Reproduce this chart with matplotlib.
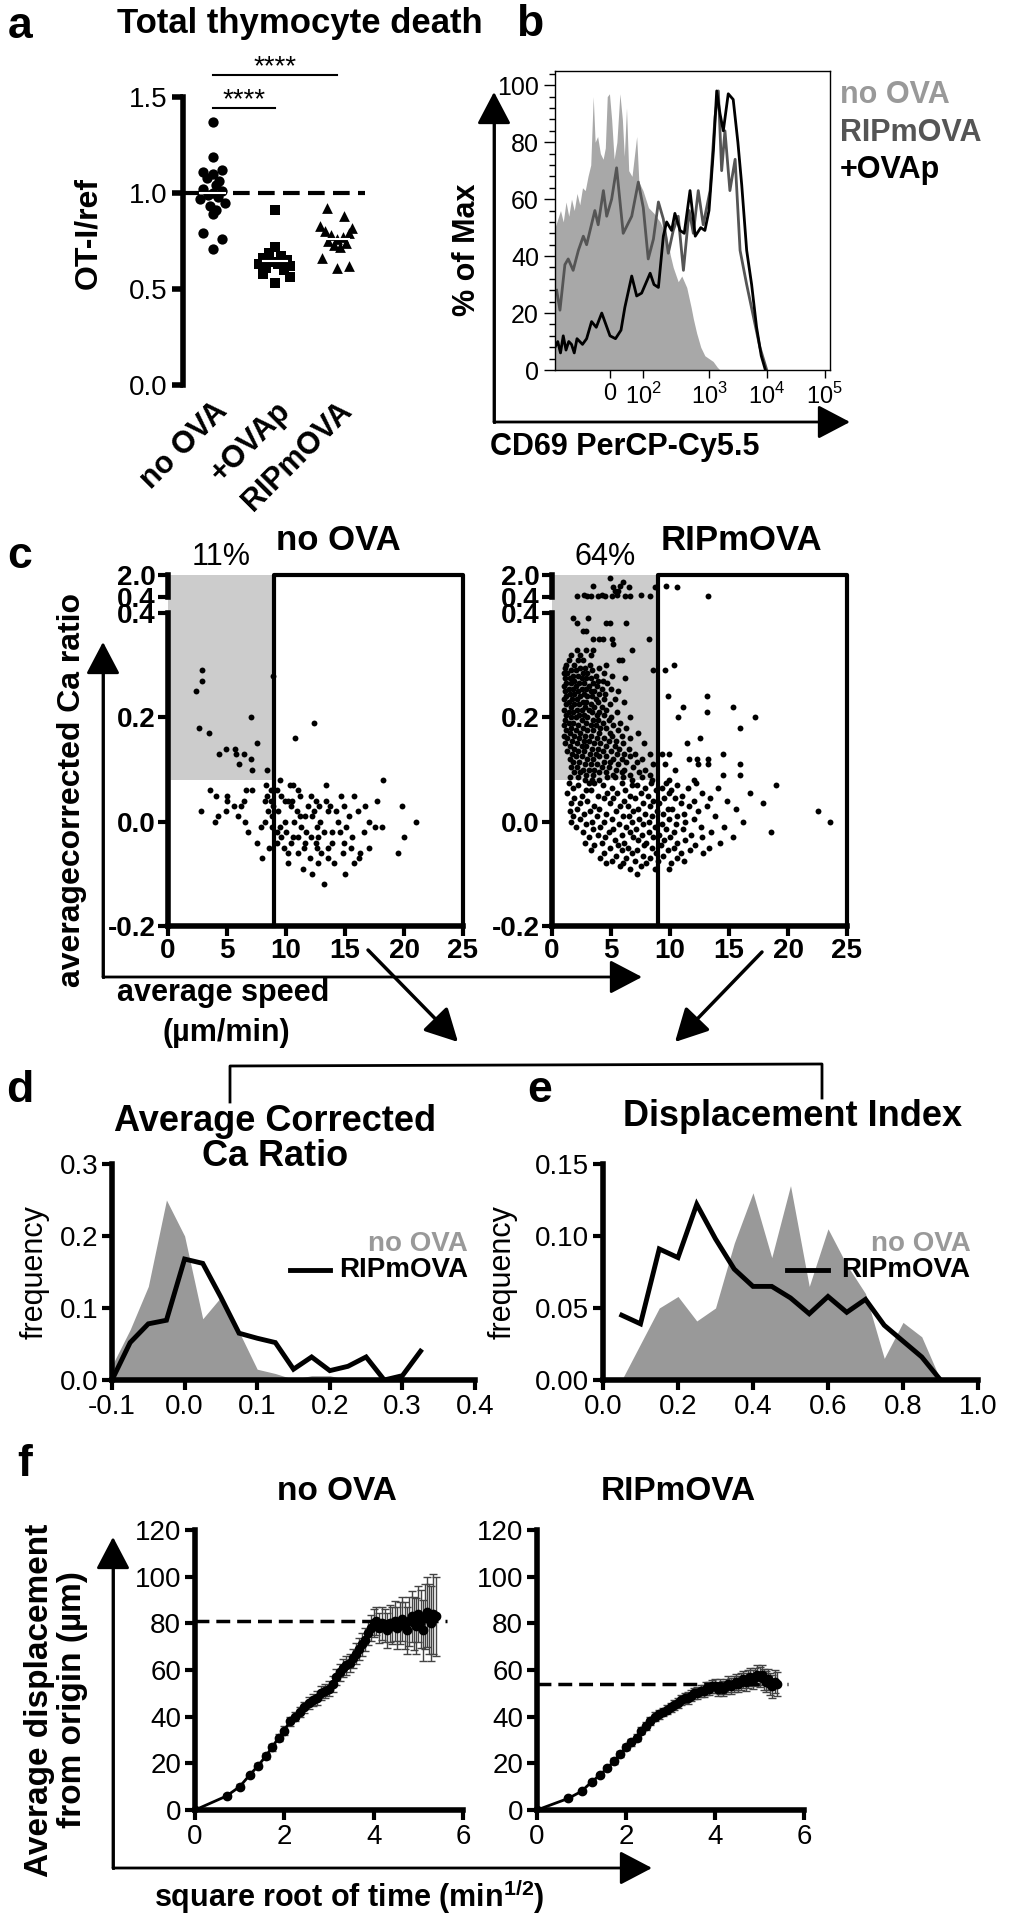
import numpy as np
import matplotlib
matplotlib.use('Agg')
import matplotlib.pyplot as plt
from matplotlib.patches import Rectangle
from matplotlib.lines import Line2D
from matplotlib.ticker import AutoMinorLocator

plt.rcParams['font.family'] = ['Liberation Sans', 'DejaVu Sans']
plt.rcParams['mathtext.fontset'] = 'custom'
plt.rcParams['mathtext.rm'] = 'Liberation Sans'
plt.rcParams['mathtext.bf'] = 'Liberation Sans:bold'

# ---------------- data ----------------
# a: total thymocyte death (OT-I/ref)
a_groups = ['no OVA', '+OVAp', 'RIPmOVA']
a_noova = [1.37, 1.19, 1.11, 1.12, 1.10, 1.08, 1.06, 1.04, 1.02, 1.01, 1.00,
           0.99, 0.98, 0.97, 0.95, 0.93, 0.91, 0.89, 0.79, 0.76, 0.71]
a_noova_dx = [0, 0, -0.15, 0.15, 0.0, -0.1, 0.1, 0.05, -0.15, 0.15, 0.0,
              -0.08, 0.08, -0.2, 0.2, -0.05, 0.05, 0.0, -0.15, 0.15, 0.0]
a_ovap = [0.91, 0.72, 0.69, 0.67, 0.66, 0.65, 0.64, 0.63, 0.63, 0.62, 0.61,
          0.60, 0.58, 0.56, 0.53]
a_ovap_dx = [0, 0, -0.1, 0.1, -0.2, 0.2, -0.05, 0.05, -0.25, 0.25, -0.15,
             0.15, -0.2, 0.25, 0]
a_rip = [0.92, 0.88, 0.83, 0.82, 0.80, 0.79, 0.78, 0.77, 0.76, 0.75, 0.74,
         0.73, 0.72, 0.66, 0.62, 0.61]
a_rip_dx = [-0.16, 0.11, -0.28, 0.24, -0.2, 0.2, -0.1, 0.1, 0.0, -0.15, 0.15,
            -0.05, 0.05, -0.24, 0.19, 0.0]
a_sig = [(0, 2, 1.615), (0, 1, 1.443)]

# b: CD69 histograms (display channel 0-1000)
b_tick_ch = [200, 320, 560, 770, 980]
b_tick_labels = ['0', '10$^2$', '10$^3$', '10$^4$', '10$^5$']
b_noova_ch = [0, 10, 20, 30, 40, 50, 60, 70, 80, 90,
              100, 110, 120, 130, 139, 146, 155, 165, 175, 183,
              190, 198, 206, 215, 225, 236, 245, 252, 260, 268,
              280, 297, 305, 320, 340, 360, 382, 406, 420, 430,
              448, 461, 479, 495, 503, 515, 530, 545, 560, 575,
              590, 600]
b_noova_pct = [50, 53, 56, 52, 59, 54, 60, 56, 62, 58,
               64, 63, 68, 72, 96, 80, 82, 76, 74, 78,
               96, 97, 88, 74, 80, 97, 88, 75, 92, 70,
               68, 82, 66, 63, 57, 55, 52, 47, 40, 36,
               31, 33, 29, 22, 18, 13, 8, 5, 4, 3,
               1, 0]
b_rip_ch = [6, 18, 36, 48, 66, 85, 103, 115, 145, 157,
            176, 188, 206, 224, 248, 279, 303, 321, 339, 358,
            376, 394, 412, 430, 448, 467, 488, 503, 521, 539,
            564, 582, 594, 606, 618, 636, 655, 673, 697, 721,
            745, 770]
b_rip_pct = [28, 21, 37, 39, 35, 42, 47, 44, 56, 51,
             63, 54, 60, 71, 48, 54, 66, 57, 39, 46,
             59, 53, 41, 49, 54, 35, 56, 48, 63, 51,
             63, 89, 98, 70, 84, 63, 74, 42, 30, 19,
             8, 0]
b_ovap_ch = [0, 10, 20, 30, 40, 50, 60, 70, 80, 90,
             100, 115, 133, 150, 170, 185, 200, 220, 240, 254,
             279, 297, 315, 346, 360, 376, 394, 406, 424, 436,
             455, 470, 491, 510, 530, 545, 560, 576, 588, 600,
             612, 630, 648, 665, 679, 697, 715, 733, 750, 765]
b_ovap_pct = [8, 10, 6, 12, 7, 10, 9, 6, 11, 10,
              9, 11, 17, 15, 20, 16, 12, 11, 14, 22,
              33, 26, 27, 34, 30, 29, 47, 52, 49, 55,
              49, 48, 63, 47, 50, 49, 56, 77, 98, 90,
              84, 97, 95, 80, 65, 42, 30, 15, 5, 0]

# c: average corrected Ca ratio vs average speed, rows of (ratio, [speeds])
gate_speed = 9
gate_ca = 0.08
c_noova_rows = [
    (0.29, [2.9]), (0.28, [8.9]), (0.27, [2.9]), (0.25, [2.35]),
    (0.20, [7.0]), (0.19, [12.4]), (0.18, [2.6]), (0.17, [3.5]),
    (0.16, [10.8]), (0.15, [7.5]), (0.14, [4.9, 5.7]), (0.13, [4.3, 5.8, 6.4]),
    (0.12, [7.0]), (0.11, [6.0]), (0.10, [7.1, 8.4]), (0.08, [9.5, 18.2]),
    (0.07, [8.3, 10.3, 10.6, 13.4]),
    (0.06, [3.6, 6.6, 7.1, 8.7, 9.2, 11.0]),
    (0.05, [4.1, 5.0, 8.4, 9.6, 11.2, 12.1, 14.7, 15.8]),
    (0.04, [5.0, 6.4, 8.2, 8.7, 9.9, 10.2, 10.5, 12.5, 13.4, 17.7]),
    (0.03, [5.6, 6.2, 8.9, 10.4, 11.9, 12.8, 13.7, 14.9, 16.7, 19.8]),
    (0.02, [2.8, 4.9, 8.5, 9.3, 10.9, 12.4, 13.6, 14.2, 16.1]),
    (0.01, [4.2, 5.9, 8.8, 11.2, 11.6, 12.2, 15.3]),
    (0.00, [4.0, 6.5, 8.2, 9.9, 10.7, 12.9, 14.4, 17.0, 21.0]),
    (-0.01, [7.9, 8.8, 9.5, 11.3, 12.6, 15.1, 17.5, 18.1]),
    (-0.02, [6.8, 9.2, 10.0, 11.7, 13.2, 13.9, 14.6, 16.6]),
    (-0.03, [9.6, 10.6, 11.0, 12.1, 12.7, 15.6, 20.0]),
    (-0.04, [7.5, 9.2, 10.4, 11.6, 12.5, 13.9, 14.9]),
    (-0.05, [8.6, 9.8, 11.5, 12.6, 13.6, 15.5, 17.0]),
    (-0.06, [10.2, 11.0, 13.0, 14.8, 16.3, 19.5]),
    (-0.07, [8.0, 12.0, 13.6, 16.2]),
    (-0.08, [10.2, 12.7, 14.1, 15.8]),
    (-0.09, [11.4]), (-0.10, [12.2, 15.0]), (-0.12, [13.2]),
]
c_noova_upper_rows = []
c_rip_upper_rows = [
    (1.80, [4.9]), (1.50, [6.0]),
    (1.20, [3.5, 5.8, 9.7]),
    (1.10, [5.2, 6.5, 8.7, 10.6]),
    (0.85, [5.3, 5.6]),
    (0.55, [2.7, 4.2, 5.5, 7.5]),
    (0.45, [2.1, 3.0, 3.3, 3.9, 4.5, 5.1, 6.2, 6.6, 8.3, 13.2]),
]
c_rip_rows = [
    (0.39, [1.8, 3.05]), (0.38, [2.1, 4.6, 4.9, 6.3]), (0.365, [2.65, 2.9]),
    (0.35, [3.5, 4.0, 4.35, 5.1, 8.2]), (0.34, [5.2]),
    (0.33, [2.1, 2.9, 3.5, 6.8]), (0.32, [1.6, 2.4, 3.3]),
    (0.31, [1.4, 2.2, 2.6, 5.7, 5.9]), (0.30, [1.2, 1.9, 3.2, 4.6, 10.3]),
    (0.295, [1.1, 2.4, 2.8, 4.0]), (0.29, [1.6, 2.0, 3.4, 8.6, 9.6]),
    (0.285, [1.0, 1.3, 2.6, 3.0, 4.4]), (0.28, [1.8, 2.2, 3.7, 5.1]),
    (0.275, [1.1, 1.5, 2.5, 2.9, 3.3, 6.2]), (0.27, [1.9, 3.9, 4.3]),
    (0.265, [1.2, 1.6, 2.3, 2.7, 3.5, 4.7]), (0.26, [1.0, 2.0, 3.1, 3.8]),
    (0.255, [1.4, 1.8, 2.5, 2.9, 4.2, 5.0]), (0.25, [1.1, 2.2, 3.3, 3.6, 5.6]),
    (0.245, [1.5, 1.9, 2.7, 4.0, 4.5]),
    (0.24, [1.2, 2.4, 3.0, 3.4, 9.8, 13.1]),
    (0.235, [1.0, 1.7, 2.1, 3.7, 4.4, 5.3]),
    (0.23, [1.4, 2.6, 2.9, 3.9, 6.1]), (0.225, [1.2, 1.9, 2.3, 3.3, 4.9]),
    (0.22, [1.6, 2.8, 3.6, 4.2, 11.1, 15.3]),
    (0.215, [1.0, 2.1, 2.5, 3.1, 4.6]),
    (0.21, [1.4, 1.8, 3.4, 4.0, 5.5, 13.1]),
    (0.205, [1.2, 2.3, 2.7, 3.8, 4.4]),
    (0.20, [1.6, 2.0, 3.0, 5.0, 6.6, 10.7, 17.2]),
    (0.195, [1.1, 2.5, 3.5, 3.9, 4.8]), (0.19, [1.4, 1.8, 2.9, 4.3, 5.8]),
    (0.185, [1.0, 2.2, 3.3, 3.7, 5.2]),
    (0.18, [1.6, 2.6, 4.1, 4.6, 6.3, 15.9]),
    (0.175, [1.2, 2.0, 3.0, 3.5, 5.6]), (0.17, [1.5, 2.4, 4.0, 4.9, 7.3]),
    (0.165, [1.0, 1.9, 2.8, 3.3, 5.1, 5.9]),
    (0.16, [1.3, 2.3, 3.8, 4.4, 6.6, 12.5]),
    (0.155, [1.7, 2.7, 3.1, 4.8, 5.4]),
    (0.15, [1.1, 2.1, 3.6, 4.1, 6.0, 7.8, 11.4]),
    (0.145, [1.5, 2.5, 2.9, 4.6, 5.3]), (0.14, [1.9, 3.4, 3.9, 5.7, 6.5]),
    (0.135, [1.3, 2.2, 2.7, 4.3, 5.0]),
    (0.13, [1.7, 3.2, 3.7, 5.5, 6.1, 7.0, 8.3, 9.3, 9.9, 14.5]),
    (0.125, [2.0, 2.5, 4.0, 4.6, 6.6]),
    (0.12, [1.5, 3.0, 3.5, 5.2, 5.9, 7.6, 11.6, 12.3, 13.2]),
    (0.115, [1.8, 2.3, 4.4, 4.9, 6.3, 7.2]),
    (0.11, [2.8, 3.3, 3.8, 5.6, 8.6, 9.6, 12.4, 13.2, 15.9]),
    (0.105, [1.6, 2.1, 4.2, 4.8, 6.9]),
    (0.10, [2.6, 3.1, 3.6, 5.4, 6.1, 7.9, 10.4]),
    (0.095, [1.9, 2.4, 4.0, 4.6, 5.9, 7.4]),
    (0.09, [2.9, 3.5, 5.2, 6.6, 8.3, 14.5, 15.9]),
    (0.085, [1.5, 2.2, 4.7, 5.3, 6.0, 7.6]),
    (0.08, [2.8, 3.4, 4.0, 6.8, 8.5, 9.9, 12.0]),
    (0.075, [1.4, 3.1, 3.6, 5.9, 8.4, 9.7, 12.2]),
    (0.07, [2.2, 4.3, 6.8, 7.2, 10.6, 19.0]),
    (0.065, [1.8, 5.1, 7.9, 9.3, 11.5, 14.1]),
    (0.06, [2.9, 3.3, 6.2, 8.8, 10.1]),
    (0.055, [1.3, 4.7, 5.5, 7.5, 9.9, 12.7, 16.8]),
    (0.05, [2.5, 3.9, 6.6, 8.1, 11.0]),
    (0.045, [1.9, 4.4, 5.2, 7.0, 9.5, 10.4, 13.4]),
    (0.04, [3.0, 6.1, 8.6, 12.0, 14.8]),
    (0.035, [1.6, 2.4, 4.9, 7.7, 9.1, 10.9, 17.9]),
    (0.03, [3.6, 5.8, 6.4, 8.3, 11.6, 13.1]),
    (0.025, [2.1, 4.0, 7.3, 9.8, 10.2, 15.6]),
    (0.02, [1.5, 3.2, 5.4, 6.9, 8.9, 12.4, 22.5]),
    (0.015, [2.7, 4.6, 7.9, 9.4, 11.2]),
    (0.01, [1.8, 3.8, 6.0, 6.5, 8.5, 10.6, 13.8]),
    (0.005, [2.4, 5.1, 7.4, 9.9, 12.0]),
    (0.0, [1.6, 3.4, 4.4, 6.8, 8.2, 11.3, 16.2, 23.6]),
    (-0.005, [2.9, 5.7, 7.7, 9.3, 10.5]),
    (-0.01, [2.0, 4.1, 6.3, 8.7, 12.6, 14.6]),
    (-0.015, [3.5, 5.2, 7.1, 9.7, 11.1]),
    (-0.02, [2.6, 4.8, 6.6, 8.2, 10.3, 13.5, 18.6]),
    (-0.025, [3.9, 5.9, 7.6, 9.1, 11.8]),
    (-0.03, [3.1, 4.5, 6.9, 8.6, 10.0, 12.7, 15.3]),
    (-0.035, [5.3, 7.3, 9.5, 11.3]),
    (-0.04, [2.8, 4.2, 6.1, 8.0, 10.6, 14.2]),
    (-0.045, [3.6, 5.6, 7.8, 9.2, 12.1]),
    (-0.05, [4.9, 6.4, 8.5, 10.3, 13.3]),
    (-0.055, [3.3, 5.9, 7.2, 9.8, 11.7]),
    (-0.06, [4.4, 6.8, 8.8, 10.9, 12.8]),
    (-0.065, [5.4, 7.7, 9.4]),
    (-0.07, [4.1, 6.3, 8.3, 10.6]),
    (-0.075, [5.1, 7.0, 9.0, 11.2]),
    (-0.08, [4.6, 6.0, 8.0, 10.1]),
    (-0.085, [5.8, 7.5]),
    (-0.09, [6.6, 8.7, 9.9]),
    (-0.10, [7.2]),
]

# d: average corrected Ca ratio histogram
d_x = [-0.1, -0.075, -0.05, -0.025, 0.0, 0.025, 0.05, 0.075, 0.1, 0.125,
       0.15, 0.175, 0.2, 0.225, 0.25, 0.275, 0.3, 0.325]
d_noova = [0.02, 0.07, 0.13, 0.25, 0.20, 0.085, 0.115, 0.067, 0.015, 0.009,
           0.001, 0.006, 0.006, 0.0, 0.0, 0.0, 0.0, 0.0]
d_rip = [0.0, 0.052, 0.078, 0.083, 0.168, 0.162, 0.115, 0.065, 0.058, 0.052,
         0.015, 0.032, 0.013, 0.019, 0.032, 0.0, 0.006, 0.04]

# e: displacement index histogram
e_x = [0.05, 0.1, 0.15, 0.2, 0.25, 0.3, 0.35, 0.4, 0.45, 0.5, 0.55, 0.6,
       0.65, 0.7, 0.75, 0.8, 0.85, 0.9]
e_noova = [0.0, 0.025, 0.05, 0.058, 0.041, 0.05, 0.095, 0.13, 0.085, 0.135,
           0.065, 0.105, 0.08, 0.06, 0.015, 0.04, 0.03, 0.0]
e_rip = [0.045, 0.039, 0.091, 0.085, 0.122, 0.098, 0.077, 0.065, 0.065,
         0.057, 0.046, 0.058, 0.047, 0.056, 0.038, 0.027, 0.016, 0.0]

# f: displacement vs sqrt(time)
time_min = [0, 0.5, 1, 1.5, 2, 2.5, 3, 3.5, 4, 4.5,
            5, 5.5, 6, 6.5, 7, 7.5, 8, 8.5, 9, 9.5,
            10, 10.5, 11, 11.5, 12, 12.5, 13, 13.5, 14, 14.5,
            15, 15.5, 16, 16.5, 17, 17.5, 18, 18.5, 19, 19.5,
            20, 20.5, 21, 21.5, 22, 22.5, 23, 23.5, 24, 24.5,
            25, 25.5, 26, 26.5, 27, 27.5, 28, 28.5, 29]
f_noova = [0, 6, 10, 15, 19, 23, 27, 31, 34, 38,
           40, 42, 44, 46, 47, 48, 50, 51, 52, 54,
           57, 59, 61, 62, 63, 65, 67, 69, 71, 73,
           76, 78, 80, 81, 78, 80, 79, 77, 80, 79,
           81, 78, 80, 82, 79, 77, 81, 83, 80, 79,
           84, 82, 77, 83, 85, 82, 80, 84, 83]
f_noova_sem = [0, 0.8, 1, 1, 1.2, 1.3, 1.5, 1.6, 1.8, 2,
               2, 2.2, 2.3, 2.5, 2.6, 2.8, 3, 3, 3.2, 3.3,
               3.5, 3.6, 3.8, 4, 4, 4.2, 4.5, 4.6, 4.8, 5,
               5.2, 5.5, 6, 6, 6.5, 7, 7, 7.5, 8, 8,
               8.5, 9, 9, 9.5, 10, 10, 10.5, 11, 11.5, 12,
               12, 12.5, 13, 14, 15, 15, 16, 17, 17]
f_rip = [0, 5, 8, 12, 15, 18, 21, 24, 27, 29,
         31, 34, 36, 38, 40, 41, 42, 43, 44, 45,
         46, 47, 48, 48, 49, 50, 50, 51, 51, 52,
         52, 53, 53, 52, 53, 52, 53, 54, 53, 54,
         55, 54, 55, 56, 55, 56, 57, 56, 57, 58,
         57, 58, 56, 55, 56, 54, 53, 55, 54]
f_rip_sem = [0, 0.5, 0.7, 0.8, 1, 1, 1.1, 1.2, 1.3, 1.4,
             1.5, 1.5, 1.6, 1.7, 1.8, 1.8, 1.9, 2, 2, 2.1,
             2.2, 2.2, 2.3, 2.4, 2.4, 2.5, 2.6, 2.6, 2.7, 2.8,
             2.8, 2.9, 3, 3, 3.1, 3.2, 3.2, 3.3, 3.4, 3.4,
             3.5, 3.6, 3.6, 3.7, 3.8, 3.8, 3.9, 4, 4, 4.1,
             4.2, 4.3, 4.4, 4.5, 4.6, 4.7, 4.8, 4.9, 5]
f_plateau = {'no OVA': 81, 'RIPmOVA': 54}

GRAY_LIGHT = '#cccccc'
GRAY_MID = '#999999'
GRAY_DARK = '#555555'

# ---------------- figure ----------------
W, H = 1024, 1920
fig = plt.figure(figsize=(W / 100, H / 100), dpi=100)


def px_axes(l, t, r, b):
    ax = fig.add_axes([l / W, 1 - b / H, (r - l) / W, (b - t) / H])
    ax.set_facecolor('none')
    return ax


def thick(ax, lw=4):
    ax.spines[['top', 'right']].set_visible(False)
    ax.spines[['left', 'bottom']].set_linewidth(lw)
    ax.tick_params(width=3, length=7, direction='out')


ov = fig.add_axes([0, 0, 1, 1], zorder=10)
ov.set_xlim(0, W)
ov.set_ylim(H, 0)
ov.axis('off')


def txt(x, y, s, size=22, bold=True, **kw):
    kw.setdefault('ha', 'center')
    kw.setdefault('va', 'center')
    ov.text(x, y, s, fontsize=size, fontweight='bold' if bold else 'normal', **kw)


def arrow(x0, y0, x1, y1, lw=2):
    ov.annotate('', xy=(x1, y1), xytext=(x0, y0),
                arrowprops=dict(arrowstyle='-|>,head_length=0.8,head_width=0.42',
                                lw=lw, color='black', shrinkA=0, shrinkB=0,
                                mutation_scale=25))


# ---- a ----
ax = px_axes(183, 97, 365, 385)
ax.set_xlim(-0.48, 2.45)
ax.set_ylim(0, 1.5)
ax.spines[['top', 'right', 'bottom']].set_visible(False)
ax.spines['left'].set_linewidth(4)
ax.set_yticks([0, 0.5, 1.0, 1.5], ['0.0', '0.5', '1.0', '1.5'])
ax.tick_params(axis='y', width=4, length=8, labelsize=20, pad=3)
ax.set_xticks(range(3), a_groups, rotation=45, ha='right',
              rotation_mode='anchor', fontweight='bold', fontsize=22)
ax.tick_params(axis='x', length=0, pad=8)
ax.axhline(1.0, color='black', lw=3, dashes=(4, 2))
for i, (vals, dx, mk, s) in enumerate([(a_noova, a_noova_dx, 'o', 55),
                                        (a_ovap, a_ovap_dx, 's', 45),
                                        (a_rip, a_rip_dx, '^', 60)]):
    ax.scatter(np.array(dx) + i, vals, marker=mk, s=s, color='black',
               lw=0, clip_on=False, zorder=3)
    m = np.mean(vals)
    ax.plot([i - 0.2, i + 0.2], [m, m], color='white', lw=1.5, zorder=4)
for x0, x1, y in a_sig:
    ax.plot([x0, x1], [y, y], color='black', lw=1.5, clip_on=False)
    ax.text((x0 + x1) / 2, y + 0.005, '****', ha='center', va='baseline',
            fontsize=20)
txt(20, 27, 'a', size=32)
txt(300, 23, 'Total thymocyte death', size=25)
txt(88, 233, 'OT-I/ref', size=23, rotation=90)

# ---- b ----
axb = px_axes(555, 71, 830, 370)
axb.set_xlim(0, 1000)
axb.set_ylim(0, 105)
axb.fill_between(b_noova_ch, b_noova_pct, color='#a8a8a8', lw=0)
axb.plot(b_rip_ch, b_rip_pct, color=GRAY_DARK, lw=2)
axb.plot(b_ovap_ch, b_ovap_pct, color='black', lw=2)
for sp in axb.spines.values():
    sp.set_linewidth(1)
axb.set_yticks(range(0, 101, 20))
axb.yaxis.set_minor_locator(AutoMinorLocator(5))
axb.tick_params(axis='y', which='major', length=8, width=1, labelsize=18)
axb.tick_params(axis='y', which='minor', length=4, width=1)
axb.set_xticks(b_tick_ch, b_tick_labels)
axb.tick_params(axis='x', length=6, width=1, labelsize=17)
txt(530, 25, 'b', size=32)
txt(467, 250, '% of Max', size=22, rotation=90)
txt(840, 95, 'no OVA', color=GRAY_MID, ha='left')
txt(840, 133, 'RIPmOVA', color=GRAY_DARK, ha='left')
txt(840, 170, '+OVAp', color='black', ha='left')
txt(490, 447, 'CD69 PerCP-Cy5.5', ha='left')
ov.plot([494, 494], [422, 120], color='black', lw=2)
arrow(494, 422, 494, 92)
arrow(494, 422, 850, 422)


# ---- c ----
def rows_xy(rows):
    xs, ys = [], []
    for y, xl in rows:
        xs += xl
        ys += [y] * len(xl)
    return xs, ys


def draw_c(l, r, rows_lo, rows_up, pct, title):
    lo = px_axes(l, 613, r, 926)
    up = px_axes(l, 575, r, 597)
    for a in (lo, up):
        a.set_xlim(0, 25)
    lo.set_ylim(-0.2, 0.4)
    up.set_ylim(0.41, 2.0)
    thick(lo)
    up.spines[['top', 'right', 'bottom']].set_visible(False)
    up.spines['left'].set_linewidth(4)
    up.set_xticks([])
    up.set_yticks([0.41, 2.0], ['0.4', '2.0'], fontweight='bold')
    up.tick_params(axis='y', width=3, length=7, labelsize=20, pad=2)
    lo.set_yticks([-0.2, 0.0, 0.2, 0.4], ['-0.2', '0.0', '0.2', '0.4'],
                  fontweight='bold')
    lo.set_xticks(range(0, 26, 5), [str(v) for v in range(0, 26, 5)],
                  fontweight='bold')
    lo.tick_params(labelsize=20, pad=2)

    to_fig = fig.transFigure.inverted()
    gx0, gy0 = to_fig.transform(lo.transData.transform((0, gate_ca)))
    gx1, ybot = to_fig.transform(lo.transData.transform((gate_speed, -0.2)))
    gxr, _ = to_fig.transform(lo.transData.transform((25, -0.2)))
    _, gtop = to_fig.transform(up.transData.transform((0, 2.0)))
    fig.add_artist(Rectangle((gx0, gy0), gx1 - gx0, gtop - gy0,
                             transform=fig.transFigure, color=GRAY_LIGHT,
                             lw=0, zorder=-5))
    fig.add_artist(Line2D([gx1, gx1, gxr, gxr], [ybot, gtop, gtop, ybot],
                          transform=fig.transFigure, color='black', lw=3,
                          zorder=5))
    xs, ys = rows_xy(rows_lo)
    lo.scatter(xs, ys, s=18, color='black', lw=0, clip_on=False, zorder=3)
    if rows_up:
        xs, ys = rows_xy(rows_up)
        up.scatter(xs, ys, s=18, color='black', lw=0, clip_on=False, zorder=3)
    gx_px = (gx0 + gx1) / 2 * W
    txt(gx_px, 557, pct, size=22, bold=False)
    txt(gx1 * W + 2, 540, title, size=25, ha='left')


draw_c(168, 463, c_noova_rows, c_noova_upper_rows, '11%', 'no OVA')
draw_c(552, 847, c_rip_rows, c_rip_upper_rows, '64%', 'RIPmOVA')
txt(20, 556, 'c', size=32)
txt(72, 790, 'averagecorrected Ca ratio', size=23, rotation=90)
txt(223, 993, 'average speed', size=22)
txt(226, 1033, '(\u00b5m/min)', size=22)
ov.plot([103, 103], [977, 660], color='black', lw=2)
arrow(103, 977, 103, 642)
arrow(103, 977, 642, 977)
arrow(368, 950, 458, 1042, lw=2.5)
arrow(762, 952, 675, 1042, lw=2.5)
ov.plot([230, 230, 822, 822], [1102, 1066, 1064, 1098], color='black', lw=2)


# ---- d / e ----
def hist_panel(l, r, xs, gray, black, xlim, ylim, xt, xtl, yt, ytl):
    a = px_axes(l, 1164, r, 1380)
    a.fill_between(xs, gray, color=GRAY_MID, lw=0)
    a.plot(xs, black, color='black', lw=3.5, solid_joinstyle='miter')
    a.set_xlim(*xlim)
    a.set_ylim(*ylim)
    thick(a)
    a.set_xticks(xt, xtl)
    a.set_yticks(yt, ytl)
    a.tick_params(labelsize=20, pad=3)
    a.text(0.98, 0.63, 'no OVA', transform=a.transAxes, ha='right',
           va='center', fontsize=20, fontweight='bold', color=GRAY_MID)
    a.text(0.98, 0.51, 'RIPmOVA', transform=a.transAxes, ha='right',
           va='center', fontsize=20, fontweight='bold', color='black')
    a.plot([0.49, 0.6], [0.51, 0.51], transform=a.transAxes, color='black',
           lw=3.5)
    return a


hist_panel(112, 475, d_x, d_noova, d_rip, (-0.1, 0.4), (0, 0.3),
           [-0.1, 0, 0.1, 0.2, 0.3, 0.4],
           ['-0.1', '0.0', '0.1', '0.2', '0.3', '0.4'],
           [0, 0.1, 0.2, 0.3], ['0.0', '0.1', '0.2', '0.3'])
hist_panel(603, 978, e_x, e_noova, e_rip, (0, 1.0), (0, 0.15),
           [0, 0.2, 0.4, 0.6, 0.8, 1.0],
           ['0.0', '0.2', '0.4', '0.6', '0.8', '1.0'],
           [0, 0.05, 0.10, 0.15], ['0.00', '0.05', '0.10', '0.15'])
txt(20, 1090, 'd', size=32)
txt(540, 1090, 'e', size=32)
txt(275, 1139, 'Average Corrected\nCa Ratio', size=26, linespacing=1.0)
txt(793, 1117, 'Displacement Index', size=26)
txt(35, 1272, 'frequency', size=22, bold=False, rotation=90)
txt(503, 1272, 'frequency', size=22, bold=False, rotation=90)

# ---- f ----
sqrt_t = np.sqrt(time_min)
for (l, r), name, ys, sem in [((195, 463), 'no OVA', f_noova, f_noova_sem),
                              ((537, 804), 'RIPmOVA', f_rip, f_rip_sem)]:
    a = px_axes(l, 1530, r, 1810)
    a.errorbar(sqrt_t, ys, yerr=sem, fmt='o-', color='black', ms=6, lw=2,
               ecolor='#444444', elinewidth=1, capsize=3, capthick=1)
    a.plot([0, 5.65], [f_plateau[name]] * 2, color='black', lw=2.5,
           dashes=(4, 2))
    a.set_xlim(0, 6)
    a.set_ylim(0, 120)
    thick(a)
    a.set_xticks([0, 2, 4, 6])
    a.set_yticks(range(0, 121, 20))
    a.tick_params(labelsize=20, pad=3)
    txt((l + r) / 2 + 8, 1492, name, size=24)
txt(25, 1465, 'f', size=32)
txt(56, 1700, 'Average displacement\nfrom origin (\u00b5m)', size=24,
    rotation=90, linespacing=1.1)
txt(349, 1897, 'square root of time (min$^{\\mathbf{1/2}}$)', size=22)
ov.plot([113, 113], [1868, 1560], color='black', lw=2)
arrow(113, 1868, 113, 1537)
arrow(113, 1868, 652, 1868)

fig.savefig('out.png', dpi=100)
